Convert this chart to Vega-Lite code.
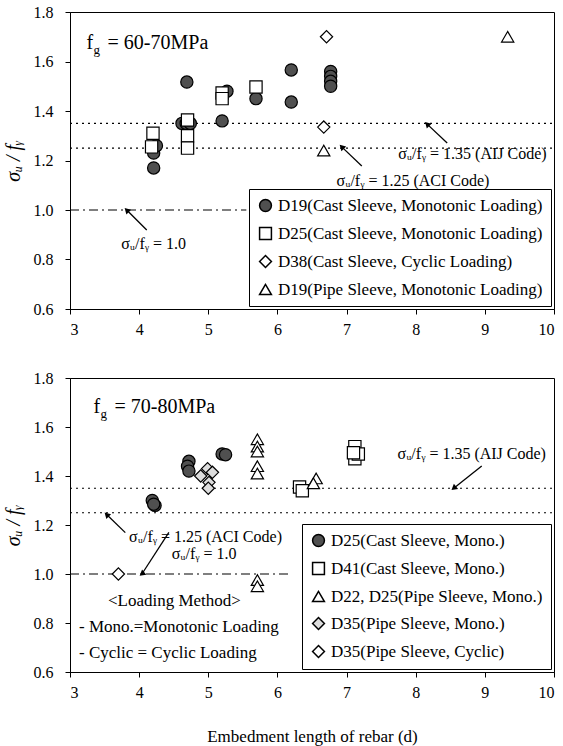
{
  "$schema": "https://vega.github.io/schema/vega-lite/v6.json",
  "padding": {"left": 2, "top": 3, "right": 0, "bottom": 2},
  "background": "white",
  "spacing": 31,
  "config": {
    "font": "Liberation Serif, Times New Roman, serif",
    "view": {"stroke": "black", "strokeWidth": 1},
    "text": {"font": "Liberation Serif, Times New Roman, serif"},
    "axis": {"grid": false, "domainColor": "black", "tickColor": "black", "labelColor": "black", "titleColor": "black", "labelFont": "Liberation Serif, Times New Roman, serif", "titleFont": "Liberation Serif, Times New Roman, serif", "labelFontSize": 16, "titleFontSize": 17, "titleFontWeight": "normal", "tickSize": 5},
    "legend": {"labelFont": "Liberation Serif, Times New Roman, serif", "labelFontSize": 17, "labelColor": "black", "strokeColor": "black", "fillColor": "white", "padding": 8, "rowPadding": 9, "labelLimit": 400, "symbolSize": 140, "offset": 3}
  },
  "datasets": {
    "p1": [
      {"s": "D19(Cast Sleeve, Monotonic Loading)", "x": 4.21, "y": 1.17},
      {"s": "D19(Cast Sleeve, Monotonic Loading)", "x": 4.21, "y": 1.23},
      {"s": "D19(Cast Sleeve, Monotonic Loading)", "x": 4.25, "y": 1.26},
      {"s": "D19(Cast Sleeve, Monotonic Loading)", "x": 4.69, "y": 1.517},
      {"s": "D19(Cast Sleeve, Monotonic Loading)", "x": 4.62, "y": 1.35},
      {"s": "D19(Cast Sleeve, Monotonic Loading)", "x": 4.68, "y": 1.35},
      {"s": "D19(Cast Sleeve, Monotonic Loading)", "x": 4.74, "y": 1.35},
      {"s": "D19(Cast Sleeve, Monotonic Loading)", "x": 5.20, "y": 1.36},
      {"s": "D19(Cast Sleeve, Monotonic Loading)", "x": 5.27, "y": 1.48},
      {"s": "D19(Cast Sleeve, Monotonic Loading)", "x": 5.69, "y": 1.45},
      {"s": "D19(Cast Sleeve, Monotonic Loading)", "x": 6.20, "y": 1.566},
      {"s": "D19(Cast Sleeve, Monotonic Loading)", "x": 6.20, "y": 1.436},
      {"s": "D19(Cast Sleeve, Monotonic Loading)", "x": 6.77, "y": 1.56},
      {"s": "D19(Cast Sleeve, Monotonic Loading)", "x": 6.77, "y": 1.54},
      {"s": "D19(Cast Sleeve, Monotonic Loading)", "x": 6.77, "y": 1.52},
      {"s": "D19(Cast Sleeve, Monotonic Loading)", "x": 6.77, "y": 1.50},
      {"s": "D25(Cast Sleeve, Monotonic Loading)", "x": 4.20, "y": 1.31},
      {"s": "D25(Cast Sleeve, Monotonic Loading)", "x": 4.18, "y": 1.255},
      {"s": "D25(Cast Sleeve, Monotonic Loading)", "x": 4.70, "y": 1.364},
      {"s": "D25(Cast Sleeve, Monotonic Loading)", "x": 4.70, "y": 1.30},
      {"s": "D25(Cast Sleeve, Monotonic Loading)", "x": 4.70, "y": 1.25},
      {"s": "D25(Cast Sleeve, Monotonic Loading)", "x": 5.20, "y": 1.473},
      {"s": "D25(Cast Sleeve, Monotonic Loading)", "x": 5.20, "y": 1.45},
      {"s": "D25(Cast Sleeve, Monotonic Loading)", "x": 5.69, "y": 1.497},
      {"s": "D38(Cast Sleeve, Cyclic Loading)", "x": 6.71, "y": 1.70},
      {"s": "D38(Cast Sleeve, Cyclic Loading)", "x": 6.67, "y": 1.335},
      {"s": "D19(Pipe Sleeve, Monotonic Loading)", "x": 9.33, "y": 1.70},
      {"s": "D19(Pipe Sleeve, Monotonic Loading)", "x": 6.67, "y": 1.24}
    ],
    "p2": [
      {"s": "D25(Cast Sleeve, Mono.)", "x": 4.72, "y": 1.46},
      {"s": "D25(Cast Sleeve, Mono.)", "x": 4.70, "y": 1.44},
      {"s": "D25(Cast Sleeve, Mono.)", "x": 4.72, "y": 1.42},
      {"s": "D25(Cast Sleeve, Mono.)", "x": 5.20, "y": 1.49},
      {"s": "D25(Cast Sleeve, Mono.)", "x": 5.25, "y": 1.487},
      {"s": "D25(Cast Sleeve, Mono.)", "x": 4.19, "y": 1.30},
      {"s": "D25(Cast Sleeve, Mono.)", "x": 4.23, "y": 1.28},
      {"s": "D25(Cast Sleeve, Mono.)", "x": 4.21, "y": 1.285},
      {"s": "D41(Cast Sleeve, Mono.)", "x": 6.32, "y": 1.355},
      {"s": "D41(Cast Sleeve, Mono.)", "x": 6.36, "y": 1.34},
      {"s": "D41(Cast Sleeve, Mono.)", "x": 7.12, "y": 1.52},
      {"s": "D41(Cast Sleeve, Mono.)", "x": 7.12, "y": 1.47},
      {"s": "D41(Cast Sleeve, Mono.)", "x": 7.17, "y": 1.49},
      {"s": "D41(Cast Sleeve, Mono.)", "x": 7.10, "y": 1.495},
      {"s": "D22, D25(Pipe Sleeve, Mono.)", "x": 5.71, "y": 1.55},
      {"s": "D22, D25(Pipe Sleeve, Mono.)", "x": 5.71, "y": 1.52},
      {"s": "D22, D25(Pipe Sleeve, Mono.)", "x": 5.71, "y": 1.50},
      {"s": "D22, D25(Pipe Sleeve, Mono.)", "x": 5.71, "y": 1.44},
      {"s": "D22, D25(Pipe Sleeve, Mono.)", "x": 5.71, "y": 1.41},
      {"s": "D22, D25(Pipe Sleeve, Mono.)", "x": 5.71, "y": 0.975},
      {"s": "D22, D25(Pipe Sleeve, Mono.)", "x": 5.71, "y": 0.95},
      {"s": "D22, D25(Pipe Sleeve, Mono.)", "x": 6.56, "y": 1.39},
      {"s": "D22, D25(Pipe Sleeve, Mono.)", "x": 6.52, "y": 1.37},
      {"s": "D35(Pipe Sleeve, Mono.)", "x": 4.89, "y": 1.40},
      {"s": "D35(Pipe Sleeve, Mono.)", "x": 4.99, "y": 1.43},
      {"s": "D35(Pipe Sleeve, Mono.)", "x": 5.06, "y": 1.415},
      {"s": "D35(Pipe Sleeve, Mono.)", "x": 5.01, "y": 1.374},
      {"s": "D35(Pipe Sleeve, Mono.)", "x": 5.00, "y": 1.35},
      {"s": "D35(Pipe Sleeve, Cyclic)", "x": 3.70, "y": 1.00}
    ],
    "lines": [
      {"panel": 1, "kind": "dot", "y": 1.35, "x": 3, "x2": 10},
      {"panel": 1, "kind": "dot", "y": 1.25, "x": 3, "x2": 10},
      {"panel": 1, "kind": "dashdot", "y": 1.0, "x": 3, "x2": 5.55},
      {"panel": 2, "kind": "dot", "y": 1.35, "x": 3, "x2": 10},
      {"panel": 2, "kind": "dot", "y": 1.25, "x": 3, "x2": 10},
      {"panel": 2, "kind": "dashdot", "y": 1.0, "x": 3, "x2": 6.2}
    ],
    "arrows": [
      {"panel": 1, "dir": "ul", "x": 8.455, "y": 1.271, "x2": 8.165, "y2": 1.347},
      {"panel": 1, "dir": "ul", "x": 7.22, "y": 1.178, "x2": 6.93, "y2": 1.255},
      {"panel": 1, "dir": "ul", "x": 4.11, "y": 0.919, "x2": 3.82, "y2": 1.0},
      {"panel": 2, "dir": "dl", "x": 8.955, "y": 1.441, "x2": 8.55, "y2": 1.35},
      {"panel": 2, "dir": "ul", "x": 3.80, "y": 1.169, "x2": 3.53, "y2": 1.243},
      {"panel": 2, "dir": "dl", "x": 4.43, "y": 1.17, "x2": 4.04, "y2": 1.0}
    ],
    "notes": [
      {"panel": 1, "x": 8.82, "y": 1.226, "t": "σᵤ/fᵧ = 1.35 (AIJ Code)"},
      {"panel": 1, "x": 7.96, "y": 1.117, "t": "σᵤ/fᵧ = 1.25 (ACI Code)"},
      {"panel": 1, "x": 4.21, "y": 0.863, "t": "σᵤ/fᵧ = 1.0"},
      {"panel": 2, "x": 8.81, "y": 1.49, "t": "σᵤ/fᵧ = 1.35 (AIJ Code)"},
      {"panel": 2, "x": 4.96, "y": 1.151, "t": "σᵤ/fᵧ = 1.25 (ACI Code)"},
      {"panel": 2, "x": 4.94, "y": 1.081, "t": "σᵤ/fᵧ = 1.0"}
    ],
    "method": [
      {"x": 4.51, "y": 0.889, "t": "<Loading Method>", "a": "center"},
      {"x": 3.13, "y": 0.783, "t": "- Mono.=Monotonic Loading", "a": "left"},
      {"x": 3.13, "y": 0.676, "t": "- Cyclic = Cyclic Loading", "a": "left"}
    ],
    "heads": [
      {"panel": 1, "x": 3.24, "y": 1.675, "f": "f", "g": "g", "rest": "= 60-70MPa"},
      {"panel": 2, "x": 3.34, "y": 1.68, "f": "f", "g": "g", "rest": "= 70-80MPa"}
    ]
  },
  "resolve": {"scale": {"fill": "independent", "shape": "independent"}, "legend": {"fill": "independent", "shape": "independent"}},
  "vconcat": [
    {
      "width": 484,
      "height": 297,
      "layer": [
        {
          "data": {"name": "lines"},
          "transform": [{"filter": "datum.panel == 1 && datum.kind == 'dot'"}],
          "mark": {"type": "rule", "color": "black", "strokeWidth": 1.2, "strokeDash": [2, 4]},
          "encoding": {
            "x": {"field": "x", "type": "quantitative", "scale": {"domain": [3, 10], "nice": false}, "axis": {"values": [3, 4, 5, 6, 7, 8, 9, 10], "format": "d", "title": null, "labelPadding": 7}},
            "x2": {"field": "x2"},
            "y": {"field": "y", "type": "quantitative", "scale": {"domain": [0.6, 1.8], "nice": false, "zero": false}, "axis": {"values": [0.6, 0.8, 1.0, 1.2, 1.4, 1.6, 1.8], "format": ".1f", "title": "σᵤ / fᵧ", "titleFontStyle": "italic", "titleFontSize": 20, "titlePadding": 10, "labelPadding": 12}}
          }
        },
        {
          "data": {"name": "lines"},
          "transform": [{"filter": "datum.panel == 1 && datum.kind == 'dashdot'"}],
          "mark": {"type": "rule", "color": "black", "strokeWidth": 1.2, "strokeDash": [9, 4, 2, 4]},
          "encoding": {"x": {"field": "x", "type": "quantitative"}, "x2": {"field": "x2"}, "y": {"field": "y", "type": "quantitative"}}
        },
        {
          "data": {"name": "arrows"},
          "transform": [{"filter": "datum.panel == 1"}],
          "mark": {"type": "rule", "color": "black", "strokeWidth": 1.3},
          "encoding": {"x": {"field": "x", "type": "quantitative"}, "y": {"field": "y", "type": "quantitative"}, "x2": {"field": "x2"}, "y2": {"field": "y2"}}
        },
        {
          "data": {"name": "arrows"},
          "transform": [{"filter": "datum.panel == 1 && datum.dir == 'ul'"}],
          "mark": {"type": "point", "shape": "triangle-up", "angle": 315, "filled": true, "color": "black", "size": 45, "opacity": 1},
          "encoding": {"x": {"field": "x2", "type": "quantitative"}, "y": {"field": "y2", "type": "quantitative"}}
        },
        {
          "data": {"name": "p1"},
          "mark": {"type": "point", "filled": true, "stroke": "black", "strokeWidth": 1.2, "size": 150, "opacity": 1},
          "encoding": {
            "x": {"field": "x", "type": "quantitative"},
            "y": {"field": "y", "type": "quantitative"},
            "shape": {"field": "s", "type": "nominal", "title": null, "scale": {"domain": ["D19(Cast Sleeve, Monotonic Loading)", "D25(Cast Sleeve, Monotonic Loading)", "D38(Cast Sleeve, Cyclic Loading)", "D19(Pipe Sleeve, Monotonic Loading)"], "range": ["circle", "square", "diamond", "triangle-up"]}, "legend": {"orient": "bottom-right", "encode": {"symbols": {"update": {"stroke": {"value": "black"}, "strokeWidth": {"value": 1.2}}}}}},
            "fill": {"field": "s", "type": "nominal", "title": null, "scale": {"domain": ["D19(Cast Sleeve, Monotonic Loading)", "D25(Cast Sleeve, Monotonic Loading)", "D38(Cast Sleeve, Cyclic Loading)", "D19(Pipe Sleeve, Monotonic Loading)"], "range": ["#505050", "white", "white", "white"]}, "legend": {"orient": "bottom-right", "encode": {"symbols": {"update": {"stroke": {"value": "black"}, "strokeWidth": {"value": 1.2}}}}}}
          }
        },
        {
          "data": {"name": "notes"},
          "transform": [{"filter": "datum.panel == 1"}],
          "mark": {"type": "text", "fontSize": 16, "color": "black", "align": "center", "baseline": "middle"},
          "encoding": {"x": {"field": "x", "type": "quantitative"}, "y": {"field": "y", "type": "quantitative"}, "text": {"field": "t"}}
        },
        {
          "data": {"name": "heads"},
          "transform": [{"filter": "datum.panel == 1"}],
          "mark": {"type": "text", "fontSize": 20, "color": "black", "align": "left", "baseline": "middle"},
          "encoding": {"x": {"field": "x", "type": "quantitative"}, "y": {"field": "y", "type": "quantitative"}, "text": {"field": "f"}}
        },
        {
          "data": {"name": "heads"},
          "transform": [{"filter": "datum.panel == 1"}],
          "mark": {"type": "text", "fontSize": 13, "color": "black", "align": "left", "baseline": "middle", "dx": 7, "dy": 7},
          "encoding": {"x": {"field": "x", "type": "quantitative"}, "y": {"field": "y", "type": "quantitative"}, "text": {"field": "g"}}
        },
        {
          "data": {"name": "heads"},
          "transform": [{"filter": "datum.panel == 1"}],
          "mark": {"type": "text", "fontSize": 20, "color": "black", "align": "left", "baseline": "middle", "dx": 21},
          "encoding": {"x": {"field": "x", "type": "quantitative"}, "y": {"field": "y", "type": "quantitative"}, "text": {"field": "rest"}}
        }
      ]
    },
    {
      "width": 484,
      "height": 294,
      "layer": [
        {
          "data": {"name": "lines"},
          "transform": [{"filter": "datum.panel == 2 && datum.kind == 'dot'"}],
          "mark": {"type": "rule", "color": "black", "strokeWidth": 1.2, "strokeDash": [2, 4]},
          "encoding": {
            "x": {"field": "x", "type": "quantitative", "scale": {"domain": [3, 10], "nice": false}, "axis": {"values": [3, 4, 5, 6, 7, 8, 9, 10], "format": "d", "title": "Embedment length of rebar (d)", "titlePadding": 28, "labelPadding": 7}},
            "x2": {"field": "x2"},
            "y": {"field": "y", "type": "quantitative", "scale": {"domain": [0.6, 1.8], "nice": false, "zero": false}, "axis": {"values": [0.6, 0.8, 1.0, 1.2, 1.4, 1.6, 1.8], "format": ".1f", "title": "σᵤ / fᵧ", "titleFontStyle": "italic", "titleFontSize": 20, "titlePadding": 10, "labelPadding": 12}}
          }
        },
        {
          "data": {"name": "lines"},
          "transform": [{"filter": "datum.panel == 2 && datum.kind == 'dashdot'"}],
          "mark": {"type": "rule", "color": "black", "strokeWidth": 1.2, "strokeDash": [9, 4, 2, 4]},
          "encoding": {"x": {"field": "x", "type": "quantitative"}, "x2": {"field": "x2"}, "y": {"field": "y", "type": "quantitative"}}
        },
        {
          "data": {"name": "arrows"},
          "transform": [{"filter": "datum.panel == 2"}],
          "mark": {"type": "rule", "color": "black", "strokeWidth": 1.3},
          "encoding": {"x": {"field": "x", "type": "quantitative"}, "y": {"field": "y", "type": "quantitative"}, "x2": {"field": "x2"}, "y2": {"field": "y2"}}
        },
        {
          "data": {"name": "arrows"},
          "transform": [{"filter": "datum.panel == 2 && datum.dir == 'ul'"}],
          "mark": {"type": "point", "shape": "triangle-up", "angle": 315, "filled": true, "color": "black", "size": 45, "opacity": 1},
          "encoding": {"x": {"field": "x2", "type": "quantitative"}, "y": {"field": "y2", "type": "quantitative"}}
        },
        {
          "data": {"name": "arrows"},
          "transform": [{"filter": "datum.panel == 2 && datum.dir == 'dl'"}],
          "mark": {"type": "point", "shape": "triangle-up", "angle": 231, "filled": true, "color": "black", "size": 45, "opacity": 1},
          "encoding": {"x": {"field": "x2", "type": "quantitative"}, "y": {"field": "y2", "type": "quantitative"}}
        },
        {
          "data": {"name": "p2"},
          "mark": {"type": "point", "filled": true, "stroke": "black", "strokeWidth": 1.2, "size": 150, "opacity": 1},
          "encoding": {
            "x": {"field": "x", "type": "quantitative"},
            "y": {"field": "y", "type": "quantitative"},
            "shape": {"field": "s", "type": "nominal", "title": null, "scale": {"domain": ["D25(Cast Sleeve, Mono.)", "D41(Cast Sleeve, Mono.)", "D22, D25(Pipe Sleeve, Mono.)", "D35(Pipe Sleeve, Mono.)", "D35(Pipe Sleeve, Cyclic)"], "range": ["circle", "square", "triangle-up", "diamond", "diamond"]}, "legend": {"orient": "bottom-right", "encode": {"symbols": {"update": {"stroke": {"value": "black"}, "strokeWidth": {"value": 1.2}}}}}},
            "fill": {"field": "s", "type": "nominal", "title": null, "scale": {"domain": ["D25(Cast Sleeve, Mono.)", "D41(Cast Sleeve, Mono.)", "D22, D25(Pipe Sleeve, Mono.)", "D35(Pipe Sleeve, Mono.)", "D35(Pipe Sleeve, Cyclic)"], "range": ["#505050", "white", "white", "#dddddd", "white"]}, "legend": {"orient": "bottom-right", "encode": {"symbols": {"update": {"stroke": {"value": "black"}, "strokeWidth": {"value": 1.2}}}}}}
          }
        },
        {
          "data": {"name": "notes"},
          "transform": [{"filter": "datum.panel == 2"}],
          "mark": {"type": "text", "fontSize": 16, "color": "black", "align": "center", "baseline": "middle"},
          "encoding": {"x": {"field": "x", "type": "quantitative"}, "y": {"field": "y", "type": "quantitative"}, "text": {"field": "t"}}
        },
        {
          "data": {"name": "method"},
          "transform": [{"filter": "datum.a == 'center'"}],
          "mark": {"type": "text", "fontSize": 17, "color": "black", "baseline": "middle", "align": "center"},
          "encoding": {"x": {"field": "x", "type": "quantitative"}, "y": {"field": "y", "type": "quantitative"}, "text": {"field": "t"}}
        },
        {
          "data": {"name": "method"},
          "transform": [{"filter": "datum.a == 'left'"}],
          "mark": {"type": "text", "fontSize": 17, "color": "black", "baseline": "middle", "align": "left"},
          "encoding": {"x": {"field": "x", "type": "quantitative"}, "y": {"field": "y", "type": "quantitative"}, "text": {"field": "t"}}
        },
        {
          "data": {"name": "heads"},
          "transform": [{"filter": "datum.panel == 2"}],
          "mark": {"type": "text", "fontSize": 20, "color": "black", "align": "left", "baseline": "middle"},
          "encoding": {"x": {"field": "x", "type": "quantitative"}, "y": {"field": "y", "type": "quantitative"}, "text": {"field": "f"}}
        },
        {
          "data": {"name": "heads"},
          "transform": [{"filter": "datum.panel == 2"}],
          "mark": {"type": "text", "fontSize": 13, "color": "black", "align": "left", "baseline": "middle", "dx": 7, "dy": 7},
          "encoding": {"x": {"field": "x", "type": "quantitative"}, "y": {"field": "y", "type": "quantitative"}, "text": {"field": "g"}}
        },
        {
          "data": {"name": "heads"},
          "transform": [{"filter": "datum.panel == 2"}],
          "mark": {"type": "text", "fontSize": 20, "color": "black", "align": "left", "baseline": "middle", "dx": 21},
          "encoding": {"x": {"field": "x", "type": "quantitative"}, "y": {"field": "y", "type": "quantitative"}, "text": {"field": "rest"}}
        }
      ]
    }
  ]
}
